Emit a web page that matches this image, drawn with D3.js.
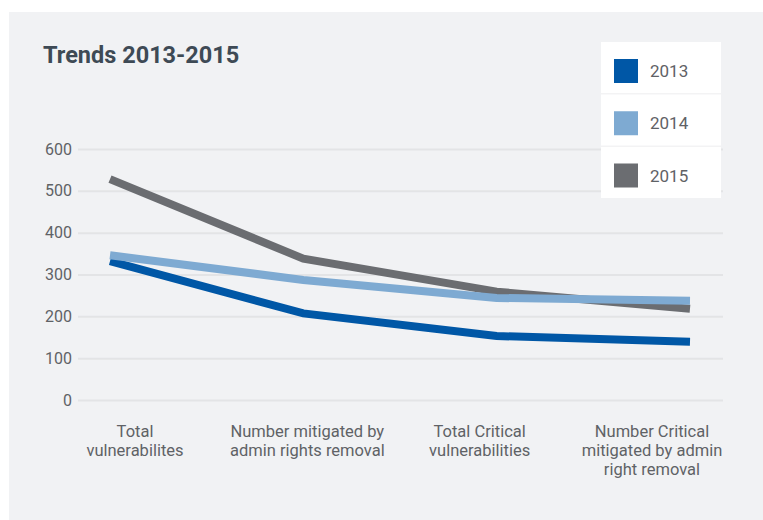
<!DOCTYPE html>
<html>
<head>
<meta charset="utf-8">
<script src="https://cdn.jsdelivr.net/npm/d3@7"></script>
<style>
  body { margin: 0; background: #fff; }
  text { font-family: Roboto, "DejaVu Sans", sans-serif; }
</style>
</head>
<body>
<svg id="canvas" width="763" height="520"></svg>
<script>
// chart data
let categories = [
    ['Total', 'vulnerabilites'],
    ['Number mitigated by', 'admin rights removal'],
    ['Total Critical', 'vulnerabilities'],
    ['Number Critical', 'mitigated by admin', 'right removal']
]
let years = ['2013', '2014', '2015']
let values2013 = [332, 207, 153, 139]
let values2014 = [346, 287, 244, 237]
let values2015 = [528, 338, 259, 218]
let yTicks = [0, 100, 200, 300, 400, 500, 600]

let colors = {'2013': '#0057a6', '2014': '#7eaad2', '2015': '#6b6d71'}

let canvas = d3.select('#canvas')

// grey panel
canvas.append('rect')
      .attr('x', 9).attr('y', 12)
      .attr('width', 754).attr('height', 508)
      .attr('fill', '#f1f2f4')

canvas.append('text')
      .text('Trends 2013-2015')
      .attr('x', 43).attr('y', 63)
      .attr('font-size', 23.5)
      .attr('font-weight', 'bold')
      .attr('fill', '#3e4a55')

let keys = categories.map((c) => c.join(' '))

let xScale = d3.scalePoint().domain(keys).range([110, 690])
let labelScale = d3.scalePoint().domain(keys).range([135, 652])
let yScale = d3.scaleLinear().domain([0, 600]).range([400, 149])

let gridLeft = 78
let gridRight = 723

let yAxis = d3.axisLeft(yScale)
              .tickValues(yTicks)
              .tickSize(-(gridRight - gridLeft))
              .tickPadding(6)

let axisGroup = canvas.append('g')
                      .attr('transform', 'translate(' + gridLeft + ', 0)')
                      .call(yAxis)

axisGroup.select('.domain').remove()
axisGroup.selectAll('.tick line')
         .attr('stroke', '#e3e4e6')
         .attr('stroke-width', 2)
axisGroup.selectAll('.tick text')
         .attr('font-size', 16)
         .attr('fill', '#5f6266')
         .attr('font-family', 'Roboto, sans-serif')

// category labels
let labels = canvas.selectAll('.cat')
                   .data(categories)
                   .enter()
                   .append('text')
                   .attr('class', 'cat')
                   .attr('text-anchor', 'middle')
                   .attr('font-size', 16.5)
                   .attr('fill', '#5f6266')
                   .attr('x', (c) => labelScale(c.join(' ')))
                   .attr('y', 437)

labels.selectAll('tspan')
      .data((c) => c.map((line) => ({line: line, key: c.join(' ')})))
      .enter()
      .append('tspan')
      .attr('x', (d) => labelScale(d.key))
      .attr('dy', (d, i) => i === 0 ? 0 : 19)
      .text((d) => d.line)

// lines
let series = [
    {year: '2015', values: values2015},
    {year: '2013', values: values2013},
    {year: '2014', values: values2014}
]

let lineGen = d3.line()
                .x((d, i) => xScale(keys[i]))
                .y((d) => yScale(d))

canvas.selectAll('.series')
      .data(series)
      .enter()
      .append('path')
      .attr('class', 'series')
      .attr('d', (s) => lineGen(s.values))
      .attr('fill', 'none')
      .attr('stroke', (s) => colors[s.year])
      .attr('stroke-width', 8)

// legend
let legend = canvas.append('g').attr('transform', 'translate(601, 42)')
let rowH = 51.5

legend.append('rect')
      .attr('width', 120).attr('height', 156)
      .attr('fill', '#e6e7e9')

let rows = legend.selectAll('.row')
                 .data(years)
                 .enter()
                 .append('g')
                 .attr('class', 'row')
                 .attr('transform', (y, i) => 'translate(0, ' + (i * (rowH + 0.75)) + ')')

rows.append('rect')
    .attr('width', 120).attr('height', rowH)
    .attr('fill', '#ffffff')

rows.append('rect')
    .attr('x', 13).attr('y', 17)
    .attr('width', 24).attr('height', 24)
    .attr('fill', (y) => colors[y])

rows.append('text')
    .text((y) => y)
    .attr('x', 49).attr('y', 35)
    .attr('font-size', 17)
    .attr('fill', '#5f6266')
</script>
</body>
</html>
